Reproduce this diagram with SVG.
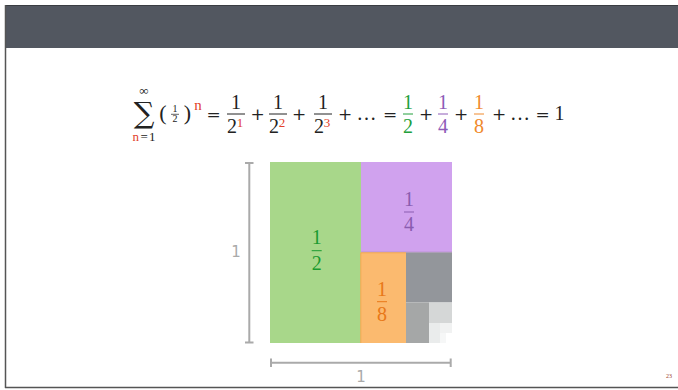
<svg xmlns="http://www.w3.org/2000/svg" width="678" height="390" viewBox="0 0 678 390">
<style>
.m{font-family:"Liberation Serif","DejaVu Serif",serif;font-size:20px;fill:#222;text-anchor:middle}
.o{font-family:"DejaVu Serif","Liberation Serif",serif;font-size:17px;fill:#222;text-anchor:middle;font-weight:300}
.s{font-family:"Liberation Serif","DejaVu Serif",serif;font-size:13px;fill:#222;text-anchor:middle}
.red{fill:#e2402a}
.bar{stroke-width:1;fill:none}
.scale{stroke:#aaaaaa;stroke-width:2;fill:none}
.lab{font-family:"DejaVu Sans","Liberation Sans",sans-serif;font-size:15px;fill:#aaaaaa;text-anchor:middle}
</style>
<rect x="0" y="0" width="678" height="390" fill="#ffffff"/>
<g id="frame">
<rect x="5" y="5" width="673" height="43" fill="#525760"/>
<line x1="5" y1="5.5" x2="678" y2="5.5" stroke="#3a3d42" stroke-width="1"/>
<line x1="5.5" y1="5" x2="5.5" y2="388" stroke="#555" stroke-width="1.5"/>
<line x1="5" y1="387.5" x2="678" y2="387.5" stroke="#555" stroke-width="1.5"/>
<text x="669" y="378" font-family="Liberation Serif,serif" font-size="6" fill="#a0402a" text-anchor="middle">23</text>
</g>
<g id="formula">
<text x="144" y="123" font-family="DejaVu Serif,serif" font-size="29" fill="#222" text-anchor="middle">∑</text>
<text x="144" y="94.5" class="s">∞</text>
<text x="144.7" y="140.5" class="s" style="font-size:13px;letter-spacing:1.3px"><tspan class="red">n</tspan>=1</text>
<text x="163" y="120" class="m" style="font-size:22px">(</text>
<text x="187.5" y="120" class="m" style="font-size:22px">)</text>
<text x="175" y="111.8" class="s" style="font-size:10px">1</text>
<text x="175" y="122.3" class="s" style="font-size:10px">2</text>
<line x1="171" y1="114.3" x2="179" y2="114.3" stroke="#222" stroke-width="0.7"/>
<text x="198" y="110" class="s red" style="font-size:15px">n</text>
<text x="213.5" y="120" class="o">=</text>
<text x="236" y="108.5" class="m">1</text>
<line x1="227" y1="114" x2="245" y2="114" stroke="#222" class="bar"/>
<text x="232" y="133" class="m">2</text>
<text x="240" y="127" class="s red">1</text>
<text x="257.5" y="120" class="o">+</text>
<text x="278" y="108.5" class="m">1</text>
<line x1="269" y1="114" x2="287" y2="114" stroke="#222" class="bar"/>
<text x="274" y="133" class="m">2</text>
<text x="282" y="127" class="s red">2</text>
<text x="299" y="120" class="o">+</text>
<text x="323" y="108.5" class="m">1</text>
<line x1="314" y1="114" x2="332" y2="114" stroke="#222" class="bar"/>
<text x="319" y="133" class="m">2</text>
<text x="327" y="127" class="s red">3</text>
<text x="345" y="120" class="o">+</text>
<text x="366.5" y="120" class="m">…</text>
<text x="390" y="120" class="o">=</text>
<text x="408" y="108.5" class="m" style="fill:#22a03c">1</text>
<line x1="403" y1="114" x2="413" y2="114" stroke="#22a03c" class="bar"/>
<text x="408" y="133" class="m" style="fill:#22a03c">2</text>
<text x="426" y="120" class="o">+</text>
<text x="443" y="108.5" class="m" style="fill:#8e5cb8">1</text>
<line x1="438" y1="114" x2="448" y2="114" stroke="#8e5cb8" class="bar"/>
<text x="443" y="133" class="m" style="fill:#8e5cb8">4</text>
<text x="461" y="120" class="o">+</text>
<text x="479" y="108.5" class="m" style="fill:#f08a2c">1</text>
<line x1="474" y1="114" x2="484" y2="114" stroke="#f08a2c" class="bar"/>
<text x="479" y="133" class="m" style="fill:#f08a2c">8</text>
<text x="499" y="120" class="o">+</text>
<text x="520" y="120" class="m">…</text>
<text x="542.5" y="120" class="o">=</text>
<text x="559.5" y="120" class="m">1</text>
</g>
<g id="square">
<rect id="half" x="270" y="162" width="91" height="181" fill="#a8d78a"/>
<rect id="quarter" x="361" y="162" width="91" height="90.5" fill="#d0a2ee"/>
<line x1="361" y1="252.2" x2="452" y2="252.2" stroke="#a888b8" stroke-width="0.8"/>
<rect id="eighth" x="360.5" y="252.5" width="45.5" height="90.5" fill="#fbba6f"/>
<path d="M360.8 343 V252.8 H406" stroke="#f2a448" stroke-width="0.8" fill="none"/>
<rect x="406" y="252.5" width="46" height="50" fill="#93969b"/>
<rect x="406" y="302.5" width="23" height="40.5" fill="#a5a7a7"/>
<rect x="429" y="302.5" width="23" height="20.5" fill="#d5d7d7"/>
<rect x="429" y="323" width="11" height="20" fill="#eaecec"/>
<rect x="440" y="323" width="12" height="10" fill="#f1f2f2"/>
<rect x="440" y="333" width="6" height="10" fill="#f6f7f7"/>
<g id="label-half">
<text x="316.7" y="243.5" class="m" style="fill:#1a9a30">1</text>
<line x1="311.7" y1="250.7" x2="321.7" y2="250.7" stroke="#1a9a30" class="bar"/>
<text x="316.7" y="269.5" class="m" style="fill:#1a9a30">2</text>
</g>
<g id="label-quarter">
<text x="409" y="205.5" class="m" style="fill:#8a5cb0">1</text>
<line x1="404" y1="212" x2="414" y2="212" stroke="#8a5cb0" class="bar"/>
<text x="409" y="230.5" class="m" style="fill:#8a5cb0">4</text>
</g>
<g id="label-eighth">
<text x="382" y="295.5" class="m" style="fill:#e87818">1</text>
<line x1="377" y1="301.7" x2="387" y2="301.7" stroke="#e87818" class="bar"/>
<text x="382" y="320.5" class="m" style="fill:#e87818">8</text>
</g>
</g>
<g id="scales">
<path class="scale" d="M249.3 163 V342.5 M245 163 H253.5 M245 342.5 H253.5"/>
<text x="236" y="257" class="lab">1</text>
<path class="scale" d="M271 362.7 H450.7 M271 358.5 V367 M450.7 358.5 V367"/>
<text x="361" y="382" class="lab">1</text>
</g>
</svg>
